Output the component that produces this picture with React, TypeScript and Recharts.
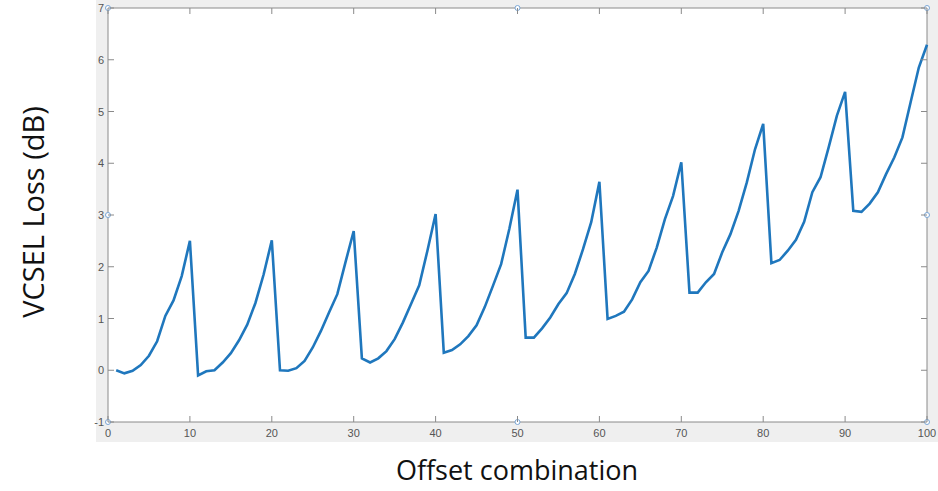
import React from "react";
import { LineChart, Line, XAxis, YAxis, CartesianGrid, ReferenceLine, ReferenceDot } from "recharts";

const loss: number[] = [
  0, -0.06, -0.01, 0.1, 0.28, 0.56, 1.05, 1.35, 1.82, 2.5,
  -0.1, -0.02, 0.0, 0.15, 0.33, 0.58, 0.88, 1.3, 1.85, 2.51,
  0.0, -0.01, 0.04, 0.18, 0.44, 0.76, 1.12, 1.47, 2.09, 2.69,
  0.23, 0.15, 0.23, 0.37, 0.6, 0.92, 1.28, 1.64, 2.31, 3.02,
  0.34, 0.39, 0.5, 0.66, 0.87, 1.22, 1.63, 2.05, 2.73, 3.49,
  0.63, 0.63, 0.81, 1.02, 1.28, 1.49, 1.86, 2.34, 2.86, 3.64,
  0.99, 1.05, 1.13, 1.37, 1.7, 1.92, 2.37, 2.92, 3.37, 4.02,
  1.5, 1.5, 1.7, 1.86, 2.28, 2.63, 3.08, 3.63, 4.27, 4.76,
  2.07, 2.13, 2.31, 2.52, 2.87, 3.44, 3.73, 4.31, 4.92, 5.38,
  3.08, 3.06, 3.22, 3.44, 3.79, 4.11, 4.5, 5.18, 5.85, 6.29,
];
const offsets: number[] = loss.map((_, i) => i + 1);

const xTicks: number[] = [0, 10, 20, 30, 40, 50, 60, 70, 80, 90, 100];
const yTicks: number[] = [-1, 0, 1, 2, 3, 4, 5, 6, 7];
const handlesX: number[] = [0, 0, 0, 50, 50, 100, 100, 100];
const handlesY: number[] = [-1, 3, 7, -1, 7, -1, 3, 7];

const xTitle = "Offset combination";
const yTitle = "VCSEL Loss (dB)";

const data = offsets.map((o, i) => ({ offset: o, loss: loss[i] }));

const PLOT_LEFT = 108;
const PLOT_RIGHT = 927;
const PLOT_TOP = 8;
const PLOT_BOTTOM = 422;
const TICK_COLOR = "#555555";
const AXIS_COLOR = "#8a8a8a";

const XTick = (props: any) => {
  const { x, payload } = props;
  return (
    <g>
      <line x1={x} x2={x} y1={PLOT_BOTTOM} y2={PLOT_BOTTOM - 6} stroke={AXIS_COLOR} strokeWidth={1} />
      <line x1={x} x2={x} y1={PLOT_TOP} y2={PLOT_TOP + 6} stroke={AXIS_COLOR} strokeWidth={1} />
      <text x={x} y={PLOT_BOTTOM + 15} textAnchor="middle" fontSize={11} fill={TICK_COLOR} fontFamily="Liberation Sans, Arial, sans-serif">
        {payload.value}
      </text>
    </g>
  );
};

const YTick = (props: any) => {
  const { y, payload } = props;
  return (
    <g>
      <line x1={PLOT_LEFT} x2={PLOT_LEFT + 6} y1={y} y2={y} stroke={AXIS_COLOR} strokeWidth={1} />
      <line x1={PLOT_RIGHT} x2={PLOT_RIGHT - 6} y1={y} y2={y} stroke={AXIS_COLOR} strokeWidth={1} />
      <text x={PLOT_LEFT - 4} y={y + 4} textAnchor="end" fontSize={11} fill={TICK_COLOR} fontFamily="Liberation Sans, Arial, sans-serif">
        {payload.value}
      </text>
    </g>
  );
};

export default function App() {
  return (
    <div style={{ position: "absolute", left: 0, top: 0, width: 938, height: 491, background: "#ffffff" }}>
      <div style={{ position: "absolute", left: 96, top: 0, width: 842, height: 442, background: "#efefef" }} />
      <div style={{ position: "absolute", left: 0, top: 0 }}>
        <LineChart width={938} height={491} data={data} margin={{ top: PLOT_TOP, right: 938 - PLOT_RIGHT, bottom: 0, left: 0 }}>
          <CartesianGrid horizontal={false} vertical={false} fill="#ffffff" stroke="none" />
          <XAxis
            dataKey="offset"
            type="number"
            domain={[0, 100]}
            ticks={xTicks}
            height={491 - PLOT_BOTTOM}
            axisLine={{ stroke: AXIS_COLOR, strokeWidth: 1 }}
            tickLine={false}
            tick={<XTick />}
            interval={0}
            label={{
              content: () => (
                <text x={517} y={480} textAnchor="middle" fontSize={27} fill="#111" fontFamily="Open Sans, sans-serif">
                  {xTitle}
                </text>
              ),
            }}
          />
          <YAxis
            type="number"
            domain={[-1, 7]}
            ticks={yTicks}
            width={PLOT_LEFT}
            axisLine={{ stroke: AXIS_COLOR, strokeWidth: 1 }}
            tickLine={false}
            tick={<YTick />}
            interval={0}
            label={{
              content: () => (
                <text x={44} y={212} transform="rotate(-90 44 212)" textAnchor="middle" fontSize={29} fill="#111" fontFamily="Open Sans, sans-serif">
                  {yTitle}
                </text>
              ),
            }}
          />
          <ReferenceLine y={7} stroke={AXIS_COLOR} strokeWidth={1} ifOverflow="visible" />
          <ReferenceLine x={100} stroke={AXIS_COLOR} strokeWidth={1} ifOverflow="visible" />
          <Line
            type="linear"
            dataKey="loss"
            stroke="#1f77bd"
            strokeWidth={2.6}
            dot={false}
            isAnimationActive={false}
          />
          {handlesX.map((hx, i) => (
            <ReferenceDot key={i} x={hx} y={handlesY[i]} r={2.5} fill="#ffffff" stroke="#7aa6d6" strokeWidth={1} ifOverflow="visible" />
          ))}
        </LineChart>
      </div>
    </div>
  );
}
